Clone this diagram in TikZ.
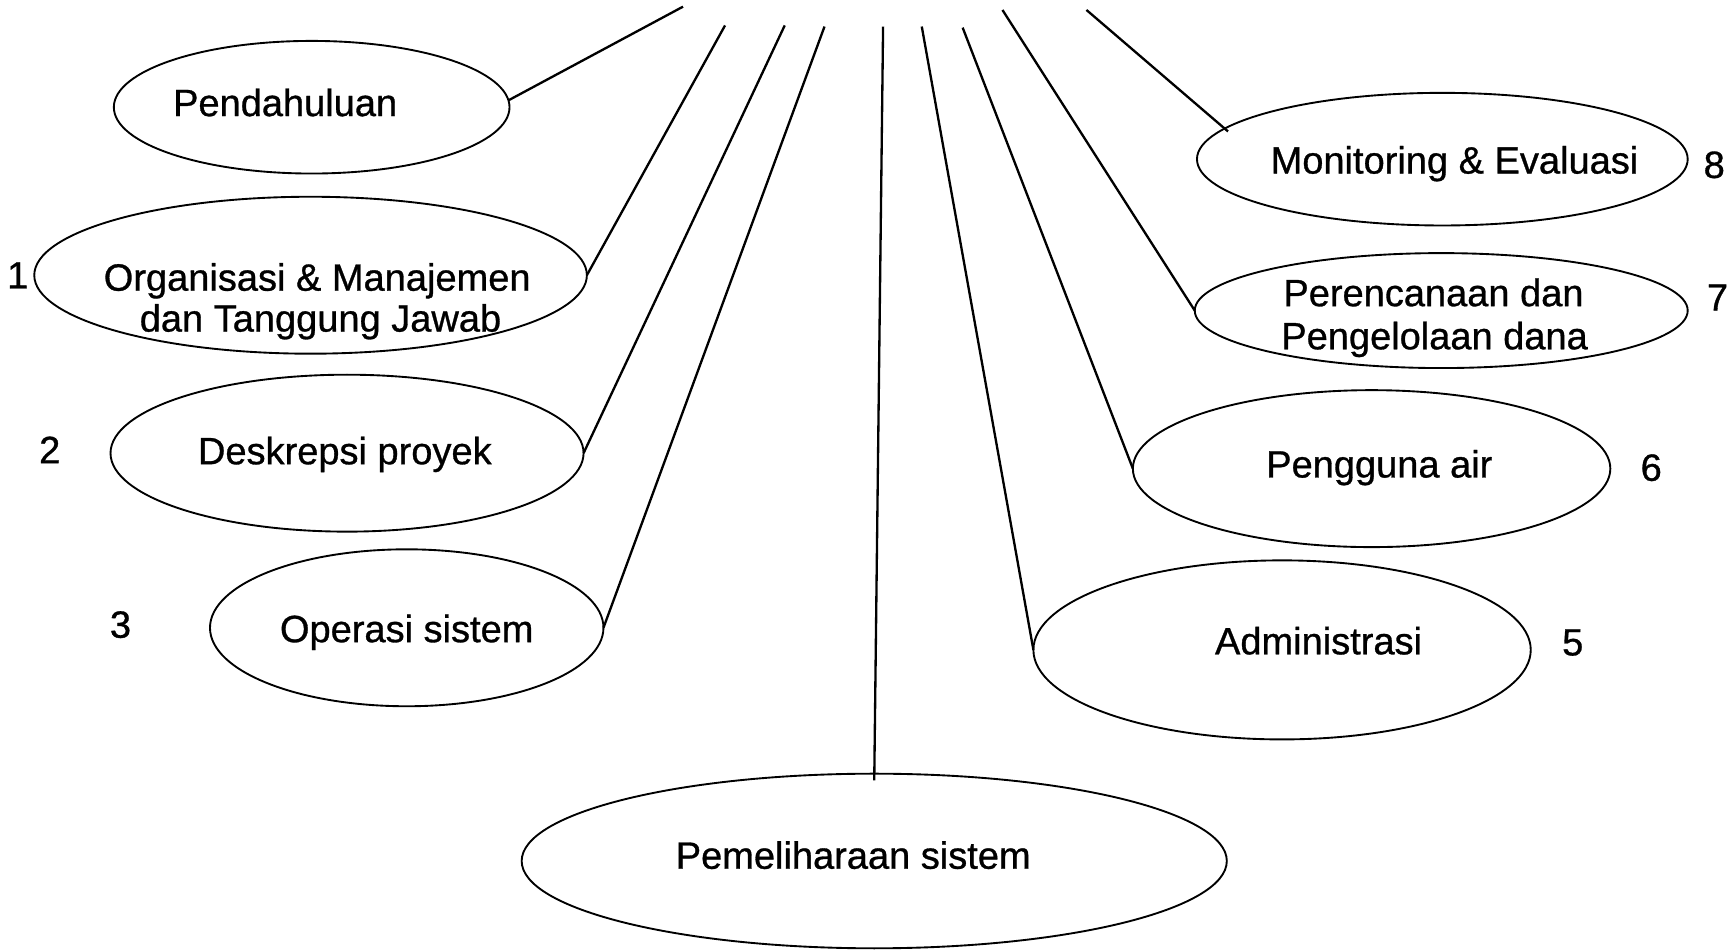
\documentclass[tikz,border=0pt]{standalone}
\usepackage{fontspec}
\setmainfont[FakeBold=0.8]{Liberation Sans}
\usetikzlibrary{shapes.geometric}
\begin{document}
\begin{tikzpicture}[x=0.5pt,y=-0.5pt,
  oval/.style={draw, ellipse, line width=0.85pt, inner sep=0pt, outer sep=0pt},
  lbl/.style={font=\fontsize{17.2}{19.5}\selectfont, inner sep=0pt, anchor=base},
  lbltwo/.style={font=\fontsize{17.2}{19.5}\selectfont, inner sep=0pt, align=center, anchor=base},
  conn/.style={line width=1.05pt}]
\useasboundingbox (0,0) rectangle (1568,859);
% ellipses
\node[oval, minimum width=179pt, minimum height=60pt] (pend) at (282,97) {};
\node[oval, minimum width=250pt, minimum height=71pt] (org) at (281,249) {};
\node[oval, minimum width=214pt, minimum height=71pt] (desk) at (314,410) {};
\node[oval, minimum width=178pt, minimum height=71pt] (oper) at (368,568) {};
\node[oval, minimum width=319pt, minimum height=79pt] (pem) at (791,779) {};
\node[oval, minimum width=225pt, minimum height=81pt] (adm) at (1160,588) {};
\node[oval, minimum width=216pt, minimum height=71pt] (peng) at (1241,424) {};
\node[oval, minimum width=223pt, minimum height=52pt] (pere) at (1304,281) {};
\node[oval, minimum width=222pt, minimum height=60pt] (mon) at (1305,144) {};
% texts
\node[lbl] (tpend) at (258,105) {Pendahuluan};
\node[lbl] (torg1) at (287,263) {Organisasi \& Manajemen};
\node[lbl] (torg2) at (290,300) {dan Tanggung Jawab};
\node[lbl] (tdesk) at (312,420) {Deskrepsi proyek};
\node[lbl] (toper) at (368,581) {Operasi sistem};
\node[lbl] (tpem) at (772,786) {Pemeliharaan sistem};
\node[lbl] (tadm) at (1193,592) {Administrasi};
\node[lbl] (tpeng) at (1248,432) {Pengguna air};
\node[lbl] (tpere1) at (1297,277) {Perencanaan dan};
\node[lbl] (tpere2) at (1298,316) {Pengelolaan dana};
\node[lbl] (tmon) at (1316,157) {Monitoring \& Evaluasi};
% numbers
\node[lbl] (n1) at (16,261) {1};
\node[lbl] (n2) at (45,419) {2};
\node[lbl] (n3) at (109,577) {3};
\node[lbl] (n5) at (1423,593) {5};
\node[lbl] (n6) at (1494,435) {6};
\node[lbl] (n7) at (1554,281) {7};
\node[lbl] (n8) at (1551,161) {8};
% free ends at top
\coordinate (t1) at (618,6);
\coordinate (t2) at (656,23);
\coordinate (t3) at (710,23);
\coordinate (t4) at (746,24);
\coordinate (t5) at (799,24);
\coordinate (t6) at (834,24);
\coordinate (t7) at (871,25);
\coordinate (t8) at (907,9);
\coordinate (t9) at (983,9);
% connectors
\draw[conn] (t1) -- (pend.2);
\draw[conn] (t2) -- (org.east);
\draw[conn] (t3) -- (desk.east);
\draw[conn] (t4) -- (oper.east);
\draw[conn] (t5) -- ([yshift=-3pt]pem.north);
\draw[conn] (t6) -- (adm.west);
\draw[conn] (t7) -- (peng.west);
\draw[conn] (t8) -- (pere.west);
\draw[conn, shorten >=-2pt] (t9) -- (mon.172);
\end{tikzpicture}
\end{document}
